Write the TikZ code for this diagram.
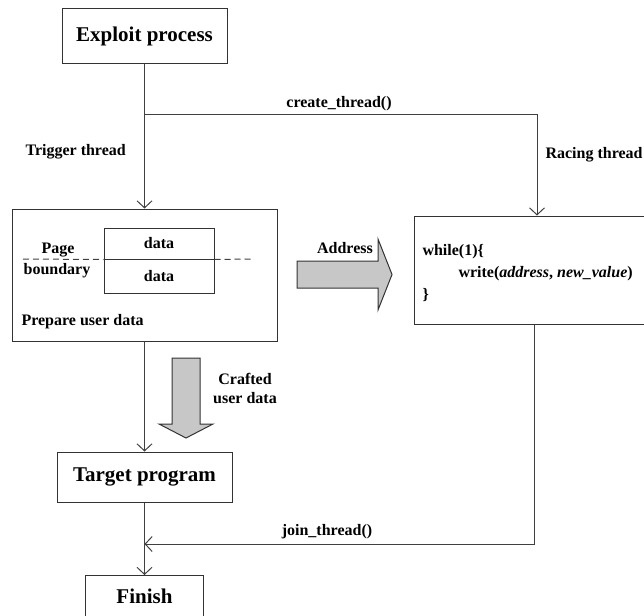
\documentclass[tikz,border=0pt]{standalone}
\usepackage{fontspec}
\setmainfont{Liberation Serif}
\usetikzlibrary{arrows.meta, calc}

\begin{document}
\begin{tikzpicture}[x=1pt, y=-1pt, font=\bfseries\fontsize{16}{19}\selectfont,
    box/.style={draw=black!80, line width=1pt, inner sep=0pt},
    bigbox/.style={box, font=\bfseries\fontsize{21}{25}\selectfont},
    flow/.style={draw=black!75, line width=1pt, -{Straight Barb[length=7pt, width=15pt]}},
    fatarrow/.style={draw=black!80, fill=black!22, line width=1pt, line join=miter}]
    \useasboundingbox (0,0) rectangle (644,615);
    \clip (0,0) rectangle (644,615);

    % boxes
    \node[bigbox, minimum width=165pt, minimum height=55pt] (exploit) at (144.5,36.5) {Exploit process};
    \node[box, minimum width=265pt, minimum height=132pt] (prepare) at (144.5,275) {};
    \node[box, minimum width=246pt, minimum height=108pt] (race) at (537,270) {};
    \node[bigbox, minimum width=175pt, minimum height=50pt] (target) at (144.5,477) {Target program};
    \node[bigbox, minimum width=118pt, minimum height=42pt, anchor=north] (finish) at (144.5,575) {Finish};

    % user data split over the page boundary
    \node[box, minimum width=110pt, minimum height=31pt] (dataup) at (159,243.5) {data};
    \node[box, minimum width=110pt, minimum height=34pt] (datalow) at (159,276) {data};
    \draw[black!75, line width=1pt, dash pattern=on 6pt off 4pt] (23,259) -- (dataup.south west);
    \draw[black!75, line width=1pt, dash pattern=on 6pt off 4pt] (dataup.south east) -- (253,259);
    \node[anchor=base] (page) at (58,253) {Page};
    \node[anchor=base] (boundary) at (57,274) {boundary};
    \node[anchor=base west] (preplbl) at (18,325) {Prepare user data};

    % racing loop
    \node[anchor=base west] (wline) at (419,255) {while(1)\{};
    \node[anchor=base west] (wbody) at (455,277) {write(\textit{address}, \textit{new\_value})};
    \node[anchor=base west] (wend) at (419,299) {\}};

    % threads
    \coordinate (fork) at (144.5,114);
    \coordinate (join) at (144.5,544);
    \draw[flow] (exploit) -- (prepare);
    \draw[flow] (fork) -| (race.north);
    \draw[flow] (prepare) -- (target);
    \draw[flow] (target) -- (finish);
    \draw[flow] ([xshift=-3pt]race.south) |- (join);

    \node[anchor=base] (createlbl) at (339,107) {create\_thread()};
    \node[anchor=base west] (triglbl) at (22,155) {Trigger thread};
    \node[anchor=base west] (racelbl) at (542,158) {Racing thread};
    \node[anchor=base] (joinlbl) at (327,535) {join\_thread()};

    % hand-over arrows
    \draw[fatarrow] (297,261) -- (378,261) -- (378,239) -- (392,274.5) -- (378,310) -- (378,288) -- (297,288) -- cycle;
    \node[anchor=base] (addrlbl) at (345,253) {Address};
    \draw[fatarrow] (172,358) -- (200,358) -- (200,424) -- (213,424) -- (186,438) -- (159,424) -- (172,424) -- cycle;
    \node[align=center] (craftlbl) at (245,388) {Crafted\\user data};
\end{tikzpicture}
\end{document}
